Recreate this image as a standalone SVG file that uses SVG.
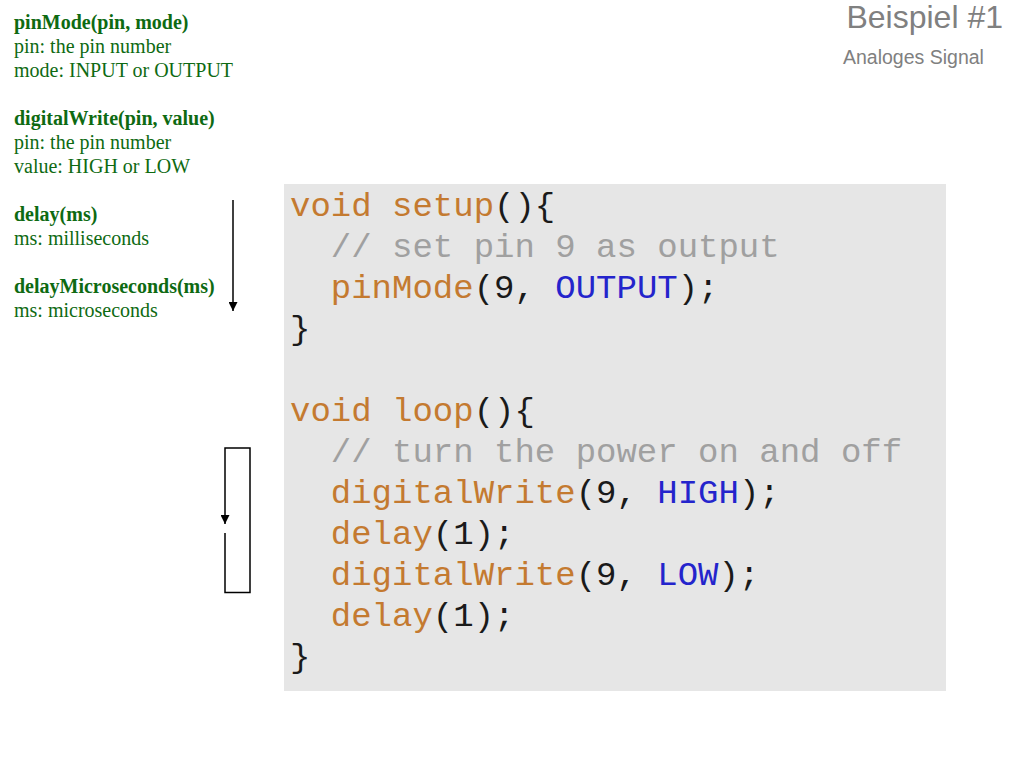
<svg xmlns="http://www.w3.org/2000/svg" width="1024" height="768" viewBox="0 0 1024 768">
<style>
.doc{font-family:"Liberation Serif","Times New Roman",serif;font-size:20px;fill:#0e6a12}
.b{font-weight:bold}
.title{font-family:"Liberation Sans",Arial,Helvetica,sans-serif;fill:#808080}
.code{font-family:"Liberation Mono","Courier New",monospace;font-size:34px;fill:#1a1a1a;white-space:pre}
.k{fill:#c47a30}
.c{fill:#a0a0a0}
.v{fill:#2424cc}
.conn{stroke:#000;stroke-width:1.5;fill:none}
</style>
<defs>
<marker id="ah" markerWidth="9" markerHeight="9" refX="9" refY="4.5" orient="auto" markerUnits="userSpaceOnUse">
<path d="M0,0 L9,4.5 L0,9 z" fill="#000"/>
</marker>
</defs>
<rect width="1024" height="768" fill="#fff"/>

<g id="title">
<text class="title" x="1003" y="28" font-size="32" text-anchor="end">Beispiel #1</text>
<text class="title" x="843" y="63.5" font-size="19.5">Analoges Signal</text>
</g>

<g id="doc-pinMode" class="doc">
<text x="14" y="29" class="b">pinMode(pin, mode)</text>
<text x="14" y="53">pin: the pin number</text>
<text x="14" y="77">mode: INPUT or OUTPUT</text>
</g>
<g id="doc-digitalWrite" class="doc">
<text x="14" y="125" class="b">digitalWrite(pin, value)</text>
<text x="14" y="149">pin: the pin number</text>
<text x="14" y="173">value: HIGH or LOW</text>
</g>
<g id="doc-delay" class="doc">
<text x="14" y="221" class="b">delay(ms)</text>
<text x="14" y="245">ms: milliseconds</text>
</g>
<g id="doc-delayMicroseconds" class="doc">
<text x="14" y="293" class="b">delayMicroseconds(ms)</text>
<text x="14" y="317">ms: microseconds</text>
</g>

<g id="code">
<rect x="284" y="184" width="662" height="507" fill="#e6e6e6"/>
<text class="code" x="290" y="216"><tspan class="k">void setup</tspan>(){</text>
<text class="code" x="290" y="257"><tspan class="c">  // set pin 9 as output</tspan></text>
<text class="code" x="290" y="298">  <tspan class="k">pinMode</tspan>(9, <tspan class="v">OUTPUT</tspan>);</text>
<text class="code" x="290" y="339">}</text>
<text class="code" x="290" y="421"><tspan class="k">void loop</tspan>(){</text>
<text class="code" x="290" y="462"><tspan class="c">  // turn the power on and off</tspan></text>
<text class="code" x="290" y="503">  <tspan class="k">digitalWrite</tspan>(9, <tspan class="v">HIGH</tspan>);</text>
<text class="code" x="290" y="544">  <tspan class="k">delay</tspan>(1);</text>
<text class="code" x="290" y="585">  <tspan class="k">digitalWrite</tspan>(9, <tspan class="v">LOW</tspan>);</text>
<text class="code" x="290" y="626">  <tspan class="k">delay</tspan>(1);</text>
<text class="code" x="290" y="667">}</text>
</g>

<g id="connectors">
<path class="conn" d="M233,200 L233,311" marker-end="url(#ah)"/>
<path class="conn" d="M225,533 L225,592.5 L250,592.5 L250,448 L225,448 L225,524" marker-end="url(#ah)"/>
</g>
</svg>
